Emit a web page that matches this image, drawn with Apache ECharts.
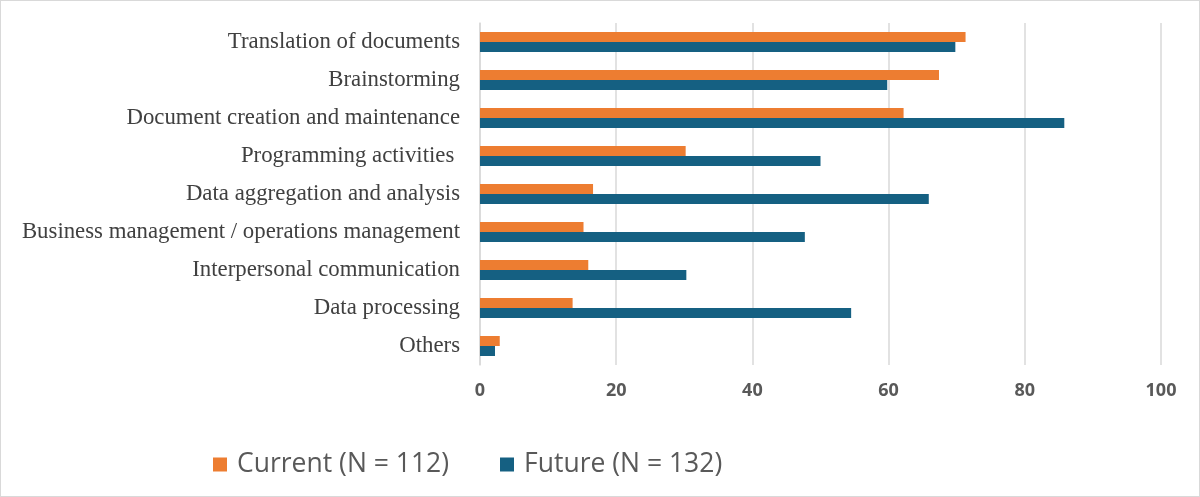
<!DOCTYPE html>
<html>
<head>
<meta charset="utf-8">
<script src="https://cdn.jsdelivr.net/npm/echarts@6/dist/echarts.min.js"></script>
<style>
html,body{margin:0;padding:0;background:#fff;}
#c{width:1200px;height:497px;box-sizing:border-box;border:1px solid #d9d9d9;}
</style>
</head>
<body>
<div id="c"></div>
<script>
const categories = ["Translation of documents","Brainstorming","Document creation and maintenance","Programming activities ","Data aggregation and analysis","Business management / operations management","Interpersonal communication","Data processing","Others"];
const currentValues = [71.3, 67.4, 62.2, 30.2, 16.6, 15.2, 15.9, 13.6, 2.9];
const futureValues = [69.8, 59.8, 85.8, 50.0, 65.9, 47.7, 30.3, 54.5, 2.2];
const xTicks = [0, 20, 40, 60, 80, 100];
const seriesNames = ["Current (N = 112)", "Future (N = 132)"];

const chart = echarts.init(document.getElementById('c'), null, {renderer:'canvas'});
chart.setOption({
  animation:false,
  color:['#ED7D31','#156082'],
  grid:{left:479,right:38,top:22,bottom:131,containLabel:false},
  legend:{
    left:207, top:445, itemWidth:14, itemHeight:14, itemGap:51, icon:'rect',
    textStyle:{fontFamily:'Open Sans', fontSize:26.5, color:'#595959', padding:[0,0,0,5]},
    data:seriesNames
  },
  xAxis:{
    type:'value', min:xTicks[0], max:xTicks[xTicks.length-1], interval:20,
    axisLine:{show:false}, axisTick:{show:false},
    splitLine:{show:true, lineStyle:{color:'#d9d9d9', width:1.5}},
    axisLabel:{margin:17, fontFamily:'Open Sans', fontWeight:'bold', fontSize:18, color:'#595959'}
  },
  yAxis:{
    type:'category', data:categories, inverse:true,
    axisLine:{show:true, lineStyle:{color:'#d9d9d9', width:1.5}}, axisTick:{show:false},
    axisLabel:{margin:20, fontFamily:'Liberation Serif', fontSize:22.8, color:'#404040'}
  },
  series:[
    {name:seriesNames[0], type:'bar', data:currentValues, barWidth:10, barGap:'0%', barCategoryGap:'47%', itemStyle:{color:'#ED7D31'}},
    {name:seriesNames[1], type:'bar', data:futureValues, barWidth:10, barGap:'0%', barCategoryGap:'47%', itemStyle:{color:'#156082'}}
  ]
});
</script>
</body>
</html>
